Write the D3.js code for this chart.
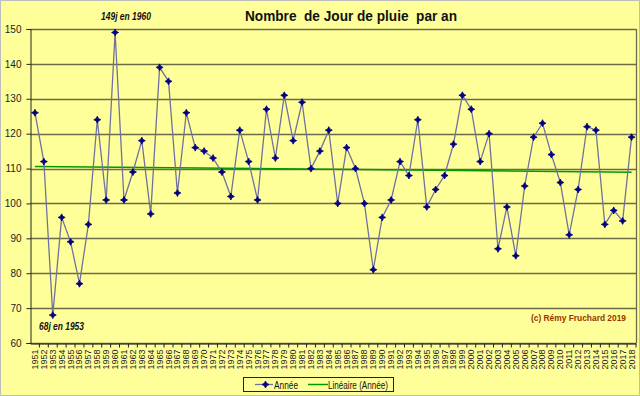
<!DOCTYPE html>
<html><head><meta charset="utf-8">
<script src="https://cdn.jsdelivr.net/npm/d3@7"></script>
<style>
html,body{margin:0;padding:0;background:#FFFF99;}
svg{display:block;}
</style></head>
<body>
<svg id="c" width="640" height="396"></svg>
<script>
const years = d3.range(1951, 2019).map(String);
const values = [126,112,68,96,89,77,94,124,101,149,101,109,118,97,139,135,103,126,116,115,113,109,102,121,112,101,127,113,131,118,129,110,115,121,100,116,110,100,81,96,101,112,108,124,99,104,108,117,131,127,112,120,87,99,85,105,119,123,114,106,91,104,122,121,94,98,95,119];
const yTicks = [60,70,80,90,100,110,120,130,140,150];
const title = "Nombre  de Jour de pluie  par an";
const seriesName = "Année";
const trendName = "Linéaire (Année)";

const FONT = "Arial, 'Liberation Sans', sans-serif";
const svg = d3.select("#c");
svg.append("rect").attr("x",0.5).attr("y",0.5).attr("width",639).attr("height",395)
  .attr("fill","#FFFF99").attr("stroke","#BDBDBD");

const L=30.5, R=636, T=29, B=343;
const x = d3.scaleBand().domain(years).range([L,R]);
const y = d3.scaleLinear().domain([60,150]).range([B,T]);
const cx = d => x(d)+x.bandwidth()/2;

// grid
svg.append("g").selectAll("line").data(yTicks).join("line")
  .attr("x1",L).attr("x2",R).attr("y1",d=>Math.round(y(d))+0.5).attr("y2",d=>Math.round(y(d))+0.5)
  .attr("stroke","#6B6B4A").attr("stroke-width",1.3);
svg.append("line").attr("x1",R+0.5).attr("x2",R+0.5).attr("y1",T).attr("y2",B).attr("stroke","#6B6B4A").attr("stroke-width",1.3);

// y axis
const ya = svg.append("g").attr("transform",`translate(${L},0)`)
  .call(d3.axisLeft(y).tickValues(yTicks).tickSize(4).tickPadding(5));
ya.select(".domain").attr("stroke","#222");
ya.selectAll(".tick line").attr("stroke","#222");
ya.selectAll("text").attr("font-family",FONT).attr("font-size",10).attr("fill","#222");

// x axis
const xa = svg.append("g").attr("transform",`translate(0,${B+0.5})`)
  .call(d3.axisBottom(x).tickSize(4).tickSizeOuter(0));
xa.select(".domain").attr("stroke","#222");
xa.selectAll(".tick line").attr("stroke","#222").attr("transform",`translate(${x.bandwidth()/2},0)`);
xa.selectAll("text").attr("font-family",FONT).attr("font-size",9).attr("fill","#222")
  .attr("text-anchor","end").attr("dy","0.33em")
  .attr("transform","translate(0,4) rotate(-90)").attr("x",-2).attr("y",0);

// trend line (least squares)
const n = values.length;
const xi = d3.range(n);
const mx = d3.mean(xi), my = d3.mean(values);
const slope = d3.sum(xi,(i)=>(i-mx)*(values[i]-my))/d3.sum(xi,i=>(i-mx)*(i-mx));
const icpt = my - slope*mx;
svg.append("line").attr("x1",cx(years[0])).attr("x2",cx(years[n-1]))
  .attr("y1",y(icpt)).attr("y2",y(icpt+slope*(n-1)))
  .attr("stroke","#009900").attr("stroke-width",1.5);

// series
svg.append("path").datum(values)
  .attr("d",d3.line().x((d,i)=>cx(years[i])).y(d=>y(d)))
  .attr("fill","none").attr("stroke","#7171A0").attr("stroke-width",1.3);
const star = "M0,-3.5 L1.2,-1.2 L3.5,0 L1.2,1.2 L0,3.5 L-1.2,1.2 L-3.5,0 L-1.2,-1.2Z";
svg.append("g").selectAll("path").data(values).join("path")
  .attr("d",star).attr("transform",(d,i)=>`translate(${cx(years[i])},${y(d)})`)
  .attr("fill","#000080").attr("stroke","#000080").attr("stroke-width",0.8);

function txt(xp, yp, s, size, len, opts={}) {
  const t = svg.append("text").attr("x",xp).attr("y",yp).attr("font-family",FONT)
    .attr("font-size",size).attr("fill",opts.fill||"#111")
    .attr("font-weight",opts.bold?"bold":"normal").attr("font-style",opts.italic?"italic":"normal")
    .style("white-space","pre").text(s);
  if (len) t.attr("textLength",len).attr("lengthAdjust","spacingAndGlyphs");
  return t;
}

txt(245, 21, title, 14.5, 212, {bold:true});
txt(101, 20, "149j en 1960", 10.5, 50, {bold:true, italic:true});
txt(39, 330, "68j en 1953", 10.5, 45, {bold:true, italic:true});
txt(531, 321, "(c) Rémy Fruchard 2019", 9.5, 95, {bold:true, fill:"#993300"});

// legend
svg.append("rect").attr("x",243.5).attr("y",377.5).attr("width",150).attr("height",14)
  .attr("fill","#FFFF99").attr("stroke","#222");
svg.append("line").attr("x1",255).attr("x2",273).attr("y1",384.5).attr("y2",384.5).attr("stroke","#7171A0").attr("stroke-width",1.3);
svg.append("path").attr("d",star).attr("transform","translate(265.5,384.5)").attr("fill","#000080").attr("stroke","#000080").attr("stroke-width",0.8);
txt(274, 388.5, seriesName, 10.5, 24);
svg.append("line").attr("x1",308).attr("x2",328).attr("y1",384.5).attr("y2",384.5).attr("stroke","#009900").attr("stroke-width",1.5);
txt(328, 388.5, trendName, 10.5, 60);
</script>
</body></html>
